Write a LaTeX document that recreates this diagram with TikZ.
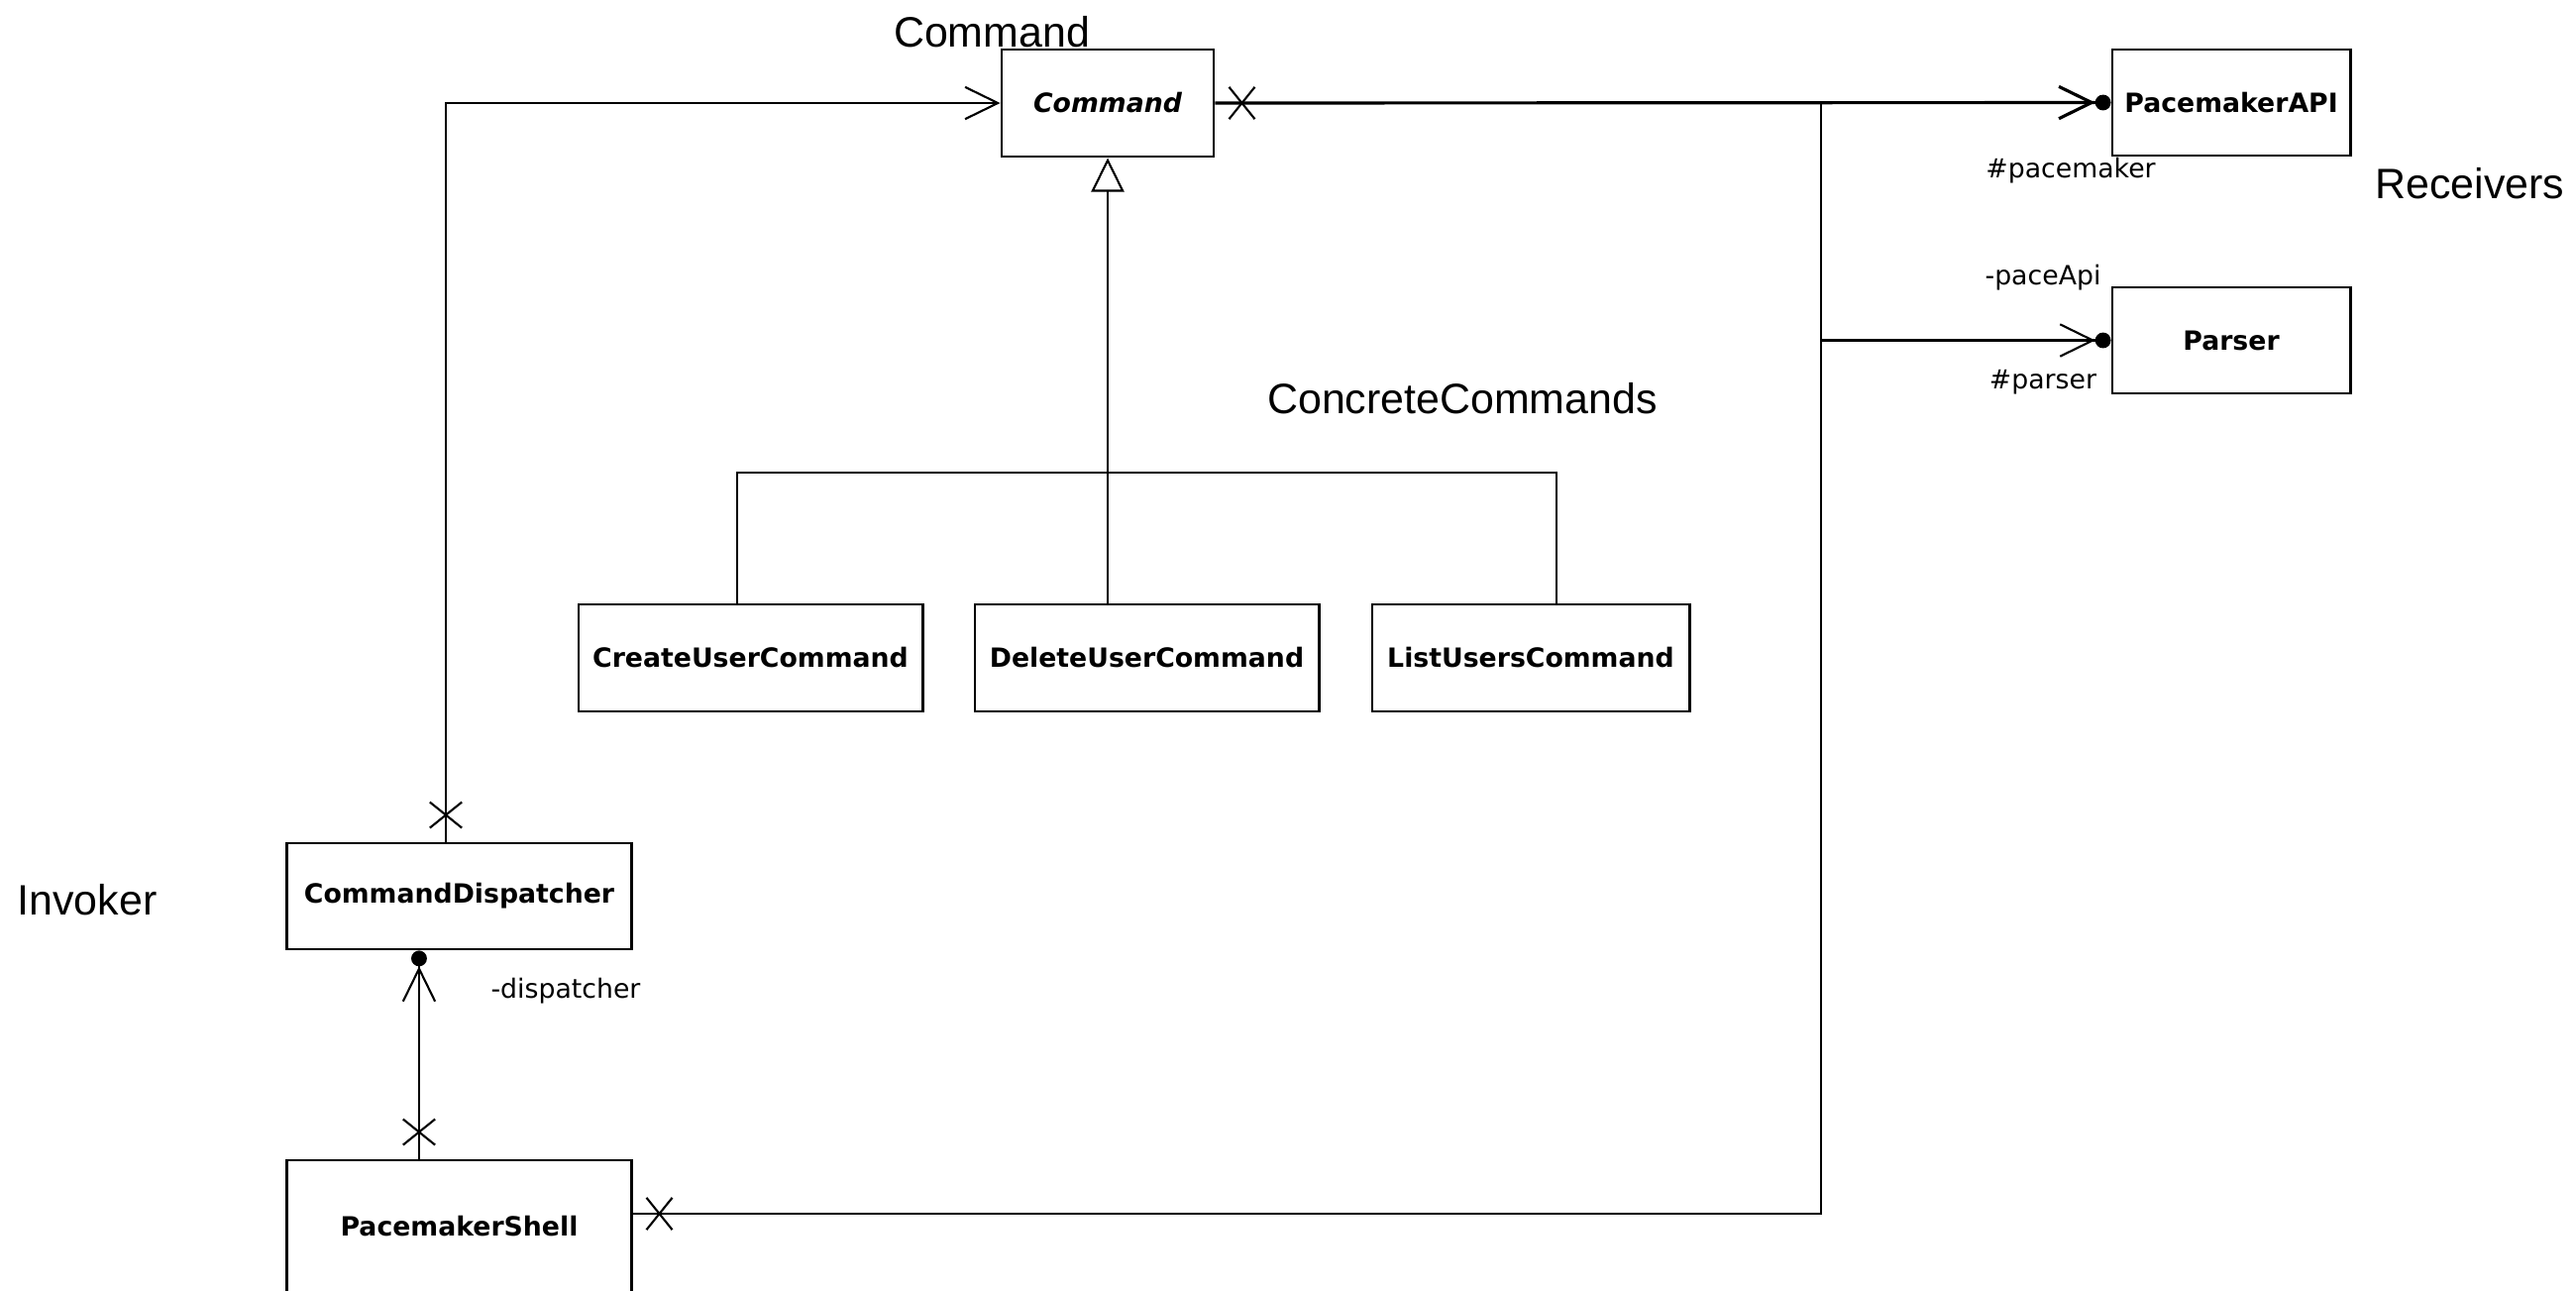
\documentclass[tikz,border=0pt]{standalone}
\usepackage{fontspec}
\setmainfont{DejaVu Sans}
\newfontfamily\notefont{Liberation Sans}
\usetikzlibrary{arrows.meta,decorations.markings}

\tikzset{
  umlclass/.style={draw, line width=0.8pt, inner sep=0pt, minimum height=1.08cm, font=\fontsize{7.6}{9}\selectfont\bfseries},
  role/.style={inner sep=0pt, font=\fontsize{7.6}{9}\selectfont},
  note/.style={inner sep=0pt, font=\notefont\fontsize{12.2}{14}\selectfont},
  assoc/.style={line width=0.6pt},
  xmark/.style={postaction={decorate}, decoration={markings,
      mark=at position 0.27cm with {\draw[-, line width=0.6pt] (-3.7pt,-4.6pt) -- (3.7pt,4.6pt) (-3.7pt,4.6pt) -- (3.7pt,-4.6pt);}}},
  nav/.style={-{Straight Barb[length=9.4pt,width=9.2pt]}},
  navdot/.style={-{Straight Barb[length=9.4pt,width=9.2pt]Circle[length=4.5pt]}},
  inherit/.style={-{Triangle[open,length=9.7pt,width=9.4pt]}},
}

\begin{document}
\begin{tikzpicture}[x=0.01cm, y=-0.01cm]
			\useasboundingbox (0,0) rectangle (2600,1302);
			\node[umlclass, minimum width=2.14cm] (cmd) at (1118,104) {\itshape Command};
			\node[umlclass, minimum width=2.40cm, minimum height=1.07cm] (api) at (2252,103.5) {PacemakerAPI};
			\node[umlclass, minimum width=2.40cm, minimum height=1.07cm] (parser) at (2252,343.5) {Parser};
			\node[umlclass, minimum width=3.47cm] (create) at (757.5,664) {CreateUserCommand};
			\node[umlclass, minimum width=3.47cm] (delete) at (1157.5,664) {DeleteUserCommand};
			\node[umlclass, minimum width=3.20cm] (list) at (1545,664) {ListUsersCommand};
			\node[umlclass, minimum width=3.47cm, minimum height=1.07cm] (disp) at (463.5,904.5) {CommandDispatcher};
			\node[umlclass, minimum width=3.47cm, minimum height=1.34cm] (shell) at (463.5,1238) {PacemakerShell};

			\node[note] (lblcommand) at (1001,32) {Command};
			\node[note] (lblconcrete) at (1476,402) {ConcreteCommands};
			\node[note] (lblreceivers) at (2493,185) {Receivers};
			\node[note] (lblinvoker) at (88,908) {Invoker};

			\node[role] (rpacemaker) at (2090,172) {\#pacemaker};
			\node[role] (rpaceapi) at (2062,280) {-paceApi};
			\node[role] (rparser) at (2062,386) {\#parser};
			\node[role] (rdispatcher) at (571,1000) {-dispatcher};

			\coordinate (fork) at (1118,477);
			\coordinate (trunk) at (1838,103.5);
			\draw[assoc, inherit] (delete.north -| cmd.south) -- (cmd.south);
			\draw[assoc] ([xshift=-0.135cm]create.north) |- (fork) -| ([xshift=0.26cm]list.north);
			\draw[assoc, line width=0.9pt, xmark, navdot] (cmd.east) -- (api.west);
			\draw[assoc, navdot] (trunk |- parser.west) -- (parser.west);
			\draw[assoc, xmark] ([yshift=0.13cm]shell.east) -| (trunk);
			\draw[assoc, xmark, nav] ([xshift=-0.135cm]disp.north) |- (cmd.west);
			\draw[assoc, xmark, navdot] ([xshift=-0.405cm]shell.north) -- ([xshift=-0.405cm]disp.south);
\end{tikzpicture}
\end{document}
